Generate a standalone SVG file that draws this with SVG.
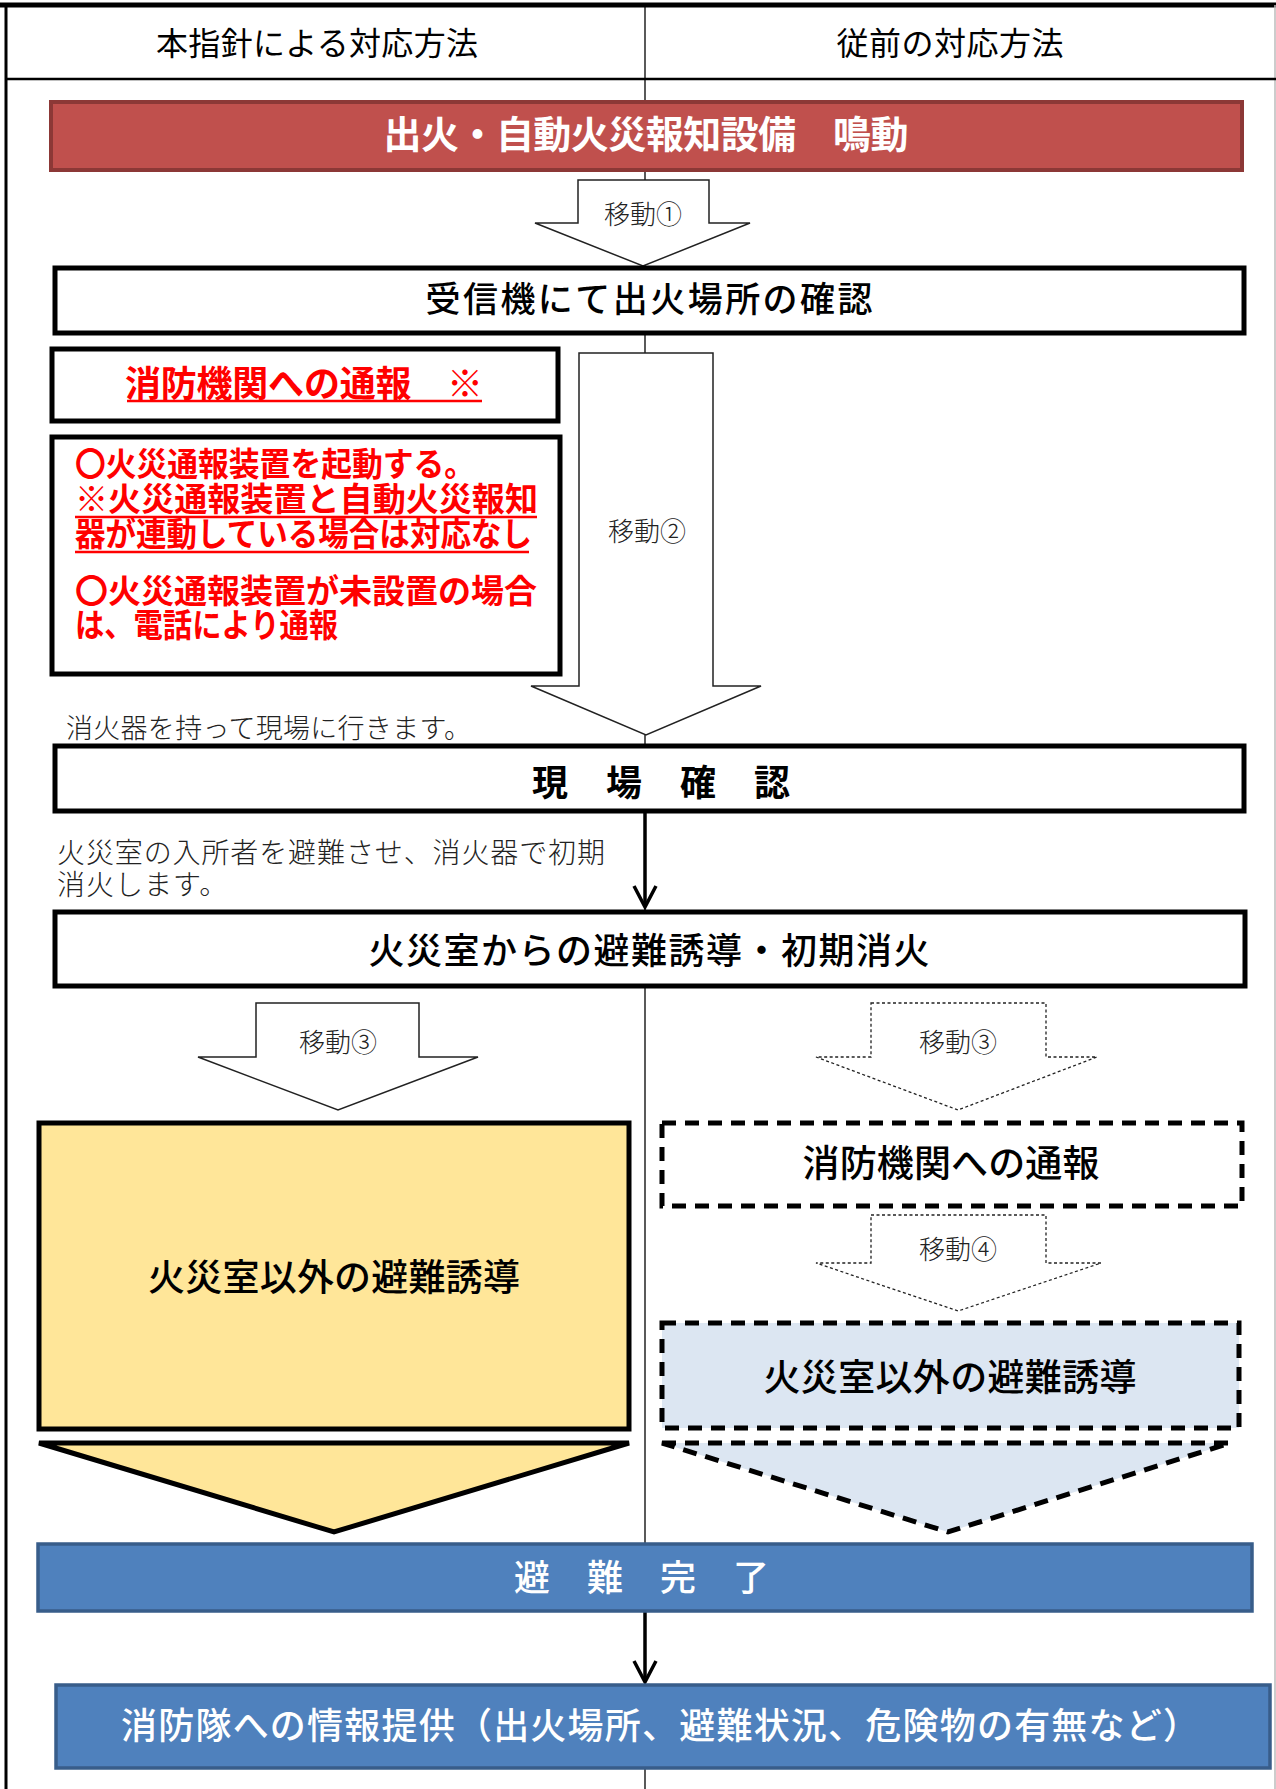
<svg xmlns="http://www.w3.org/2000/svg" width="1276" height="1789" viewBox="0 0 1276 1789">
<style>
.t{font-family:"Noto Sans CJK JP","Noto Sans",sans-serif;}
.k{font-family:"Noto Sans CJK JP","Noto Sans",sans-serif;font-weight:500;fill:#000;}
.m{font-family:"Noto Sans CJK JP","Noto Sans",sans-serif;font-weight:300;fill:#222;}
.box{fill:#fff;stroke:#000;stroke-width:5;}
.arr{fill:#fff;stroke:#222;stroke-width:1.5;stroke-linejoin:miter;}
.darr{fill:#fff;stroke:#222;stroke-width:1.3;stroke-dasharray:3 2.5;}
.dbox{stroke:#000;stroke-width:5;stroke-dasharray:14 9;}
.red{fill:#f00;font-weight:bold;}
.blue{fill:#4f81bd;stroke:#385d8a;stroke-width:3.5;}
</style>
<rect width="1276" height="1789" fill="#fff"/>
<g id="frame">
<line x1="645" y1="5" x2="645" y2="1789" stroke="#000" stroke-width="1.3"/>
<line x1="0" y1="5" x2="1276" y2="5" stroke="#000" stroke-width="5"/>
<line x1="6" y1="5" x2="6" y2="1789" stroke="#000" stroke-width="3"/>
<line x1="1275" y1="5" x2="1275" y2="1789" stroke="#bbb" stroke-width="1.5"/>
<line x1="6" y1="79" x2="1276" y2="79" stroke="#000" stroke-width="2.5"/>
<text class="t" x="317" y="55" font-size="32" text-anchor="middle" fill="#000" textLength="322" lengthAdjust="spacing">本指針による対応方法</text>
<text class="t" x="950" y="55" font-size="32" text-anchor="middle" fill="#000" textLength="227" lengthAdjust="spacing">従前の対応方法</text>
</g>
<g id="node-alarm">
<rect x="51" y="102" width="1191" height="68" fill="#c0504d" stroke="#8c3836" stroke-width="4"/>
<text class="t" x="646" y="148" font-size="38" font-weight="bold" text-anchor="middle" fill="#fff" textLength="525" lengthAdjust="spacing">出火・自動火災報知設備　鳴動</text>
</g>
<g id="arrow-move1">
<polygon class="arr" points="578,180 709,180 709,223 750,223 643,266 535,223 578,223"/>
<text class="m" x="643" y="224" font-size="26" text-anchor="middle">移動①</text>
</g>
<g id="node-receiver">
<rect class="box" x="55" y="268" width="1189" height="65" stroke-width="4.5"/>
<text class="k" x="649" y="312" font-size="35" text-anchor="middle" textLength="447" lengthAdjust="spacing">受信機にて出火場所の確認</text>
</g>
<g id="arrow-move2">
<polygon class="arr" points="579,353 713,353 713,686 761,686 646,735 531,686 579,686"/>
<text class="m" x="647" y="541" font-size="26" text-anchor="middle">移動②</text>
</g>
<g id="node-notify-title">
<rect class="box" x="52" y="349" width="506" height="72"/>
<text class="t red" x="304" y="397" font-size="36" text-anchor="middle" textLength="358" lengthAdjust="spacing">消防機関への通報　※</text>
<line x1="127" y1="401" x2="482" y2="401" stroke="#f00" stroke-width="2.5"/>
</g>
<g id="node-notify-body">
<rect class="box" x="52" y="437" width="508" height="237"/>
<text class="t red" font-size="33"><tspan x="75" y="476" textLength="400" lengthAdjust="spacingAndGlyphs">〇火災通報装置を起動する。</tspan><tspan x="75" y="511" textLength="463" lengthAdjust="spacingAndGlyphs">※火災通報装置と自動火災報知</tspan><tspan x="75" y="546" textLength="457" lengthAdjust="spacingAndGlyphs">器が連動している場合は対応なし</tspan><tspan x="75" y="603" textLength="462" lengthAdjust="spacingAndGlyphs">〇火災通報装置が未設置の場合</tspan><tspan x="75" y="637" textLength="263" lengthAdjust="spacingAndGlyphs">は、電話により通報</tspan></text>
<line x1="75" y1="517" x2="537" y2="517" stroke="#f00" stroke-width="2.5"/>
<line x1="75" y1="552" x2="529" y2="552" stroke="#f00" stroke-width="2.5"/>
</g>
<text id="note-extinguisher" class="m" x="66" y="738" font-size="27" textLength="405" lengthAdjust="spacing">消火器を持って現場に行きます。</text>
<g id="node-site-check">
<rect class="box" x="55" y="746" width="1189" height="65"/>
<text class="t" x="532 606 680 754" y="796" font-size="36" font-weight="bold" fill="#000">現場確認</text>
</g>
<g id="connectors">
<line x1="645" y1="811" x2="645" y2="905" stroke="#000" stroke-width="3.5"/>
<path d="M634,886 L645,907 L656,886" fill="none" stroke="#000" stroke-width="3.5"/>
<line x1="645" y1="1612" x2="645" y2="1680" stroke="#000" stroke-width="3.5"/>
<path d="M634,1661 L645,1682 L656,1661" fill="none" stroke="#000" stroke-width="3.5"/>
</g>
<text id="note-initial" class="m" font-size="28"><tspan x="57" y="863" textLength="548" lengthAdjust="spacing">火災室の入所者を避難させ、消火器で初期</tspan><tspan x="57" y="895" letter-spacing="1">消火します。</tspan></text>
<g id="node-initial">
<rect class="box" x="55" y="912" width="1190" height="74"/>
<text class="k" x="649" y="964" font-size="36" text-anchor="middle" textLength="561" lengthAdjust="spacing">火災室からの避難誘導・初期消火</text>
</g>
<g id="arrow-move3-left">
<polygon class="arr" points="256,1003 419,1003 419,1057 478,1057 338,1110 198,1057 256,1057"/>
<text class="m" x="338" y="1052" font-size="26" text-anchor="middle">移動③</text>
</g>
<g id="arrow-move3-right">
<polygon class="darr" points="871,1003 1046,1003 1046,1057 1097,1057 958,1110 816,1057 871,1057"/>
<text class="m" x="958" y="1052" font-size="26" text-anchor="middle">移動③</text>
</g>
<g id="node-evac-other-left">
<rect x="39" y="1123" width="590" height="306" fill="#ffe699" stroke="#000" stroke-width="5"/>
<text class="k" x="334" y="1291" font-size="37" text-anchor="middle" textLength="372" lengthAdjust="spacing">火災室以外の避難誘導</text>
</g>
<g id="arrow-yellow">
<polygon points="39,1443 629,1443 334,1532" fill="#ffe699" stroke="#000" stroke-width="5"/>
</g>
<g id="node-notify-old">
<rect class="dbox" x="662" y="1123" width="580" height="83" fill="#fff"/>
<text class="k" x="951" y="1177" font-size="37" text-anchor="middle" textLength="297" lengthAdjust="spacing">消防機関への通報</text>
</g>
<g id="arrow-move4">
<polygon class="darr" points="871,1215 1046,1215 1046,1263 1101,1263 958,1311 816,1263 871,1263"/>
<text class="m" x="958" y="1259" font-size="26" text-anchor="middle">移動④</text>
</g>
<g id="node-evac-other-right">
<rect class="dbox" x="662" y="1323" width="577" height="105" fill="#dce6f2"/>
<text class="k" x="950" y="1391" font-size="37" text-anchor="middle" textLength="373" lengthAdjust="spacing">火災室以外の避難誘導</text>
</g>
<g id="arrow-blue">
<polygon class="dbox" points="662,1443 1230,1443 948,1532" fill="#dce6f2"/>
</g>
<g id="node-complete">
<rect class="blue" x="38" y="1544" width="1214" height="67"/>
<text class="t" x="514 587 660 733" y="1591" font-size="36" font-weight="500" fill="#fff">避難完了</text>
</g>
<g id="node-info">
<rect class="blue" x="56" y="1685" width="1214" height="83"/>
<text class="t" x="121" y="1739" font-size="36" font-weight="500" fill="#fff" textLength="1078" lengthAdjust="spacing">消防隊への情報提供（出火場所、避難状況、危険物の有無など）</text>
</g>
</svg>
